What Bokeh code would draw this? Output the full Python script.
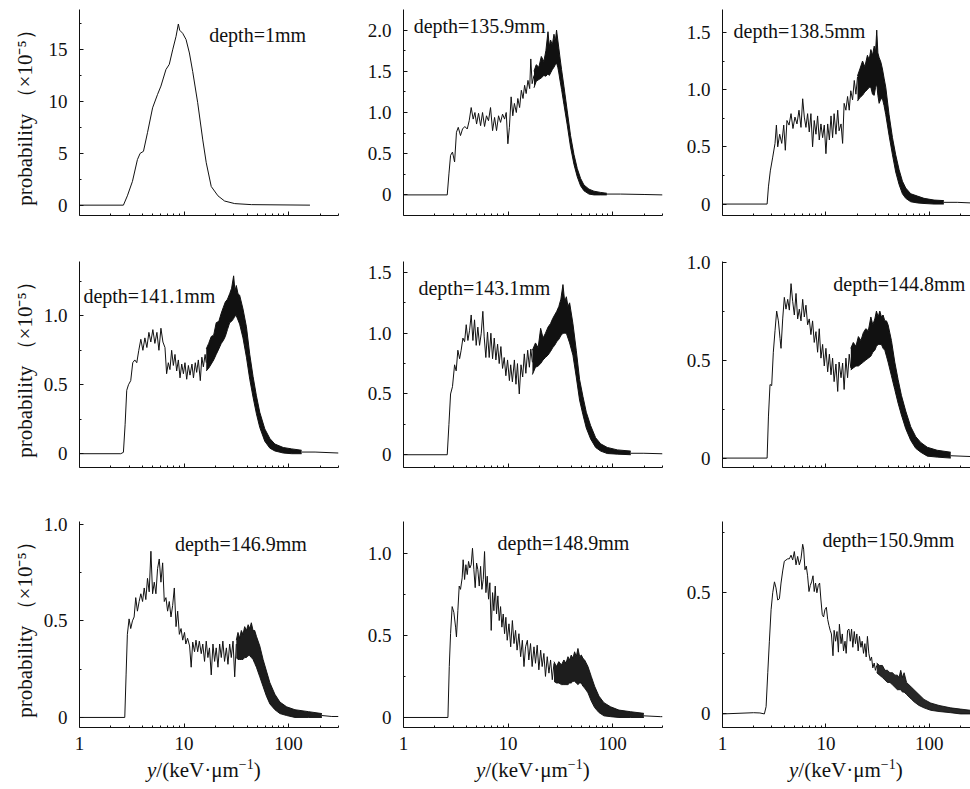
from bokeh.plotting import figure
from bokeh.models import Range1d, FixedTicker, CustomJSTickFormatter, Label, Div
from bokeh.layouts import column, row
from bokeh.embed import file_html
from bokeh.resources import INLINE

FONT = "Liberation Serif"
INK = "#111111"

# ---------------- data ----------------
DEPTHS = ["depth=1mm", "depth=135.9mm", "depth=138.5mm",
          "depth=141.1mm", "depth=143.1mm", "depth=144.8mm",
          "depth=146.9mm", "depth=148.9mm", "depth=150.9mm"]

X_TICKS = [1, 10, 100]
X_MINOR = [2, 3, 4, 5, 6, 7, 8, 9, 20, 30, 40, 50, 60, 70, 80, 90, 200, 300]
X_TITLE = "<i>y</i>/(keV·μm<sup style='font-size:14px;line-height:0'>−1</sup>)"
Y_TITLE = "probability （×10⁻⁵）"

Y_TICKS = [[0, 5, 10, 15], [0, 0.5, 1.0, 1.5, 2.0], [0, 0.5, 1.0, 1.5],
           [0, 0.5, 1.0], [0, 0.5, 1.0, 1.5], [0, 0.5, 1.0],
           [0, 0.5, 1.0], [0, 0.5, 1.0], [0, 0.5]]
Y_MINOR = [[2.5, 7.5, 12.5, 17.5], [0.25, 0.75, 1.25, 1.75], [0.25, 0.75, 1.25],
           [0.25, 0.75, 1.25], [0.25, 0.75, 1.25], [0.25, 0.75],
           [0.25, 0.75], [0.25, 0.75, 1.25], [0.25, 0.75]]
Y_DECIMALS = [0, 1, 1, 1, 1, 1, 1, 1, 1]

# panel 1 (depth = 1 mm)
LX1 = [1, 2.63, 2.87, 3.21, 3.58, 3.80, 4.09, 4.47, 5.00, 5.58, 6.01, 6.71, 7.22, 7.78, 8.38,
       8.82, 9.08, 9.70, 10.45, 11.25, 12.1, 13.5, 15.1, 16.3, 18.2, 21.1, 24.4, 30.5, 44, 160]
LY1 = [0, 0, 0.9, 2.3, 4.4, 5.0, 5.2, 7.0, 9.4, 10.7, 11.5, 13.1, 13.6, 15.0, 16.3,
       17.5, 16.9, 16.6, 16.0, 14.7, 12.9, 9.9, 6.3, 4.1, 1.8, 0.9, 0.4, 0.15, 0.05, 0.0]

# panel 2 (135.9 mm)
LX2 = [1, 2.62, 2.72, 2.82, 2.94, 3.08, 3.21, 3.34, 3.51, 3.67, 3.86, 4.07, 4.25, 4.44, 4.64,
       4.82, 5.00, 5.22, 5.46, 5.70, 5.96, 6.22, 6.50, 6.80, 7.11, 7.43, 7.76, 8.11, 8.48, 8.86,
       9.26, 9.60, 9.96, 10.3, 10.7, 11.1, 11.5, 12.0, 12.4, 12.9, 13.4, 13.9, 14.4, 14.9, 15.5,
       16.1, 16.5, 17.0, 17.7]
LY2 = [0, 0, 0.255, 0.48, 0.52, 0.40, 0.76, 0.82, 0.72, 0.80, 0.83, 0.80, 0.90, 1.06, 0.92,
       1.00, 0.86, 0.99, 0.84, 1.00, 0.83, 0.96, 0.90, 1.06, 0.78, 0.94, 0.78, 0.96, 0.88, 0.98,
       0.92, 1.00, 0.62, 0.82, 1.19, 0.96, 1.11, 1.00, 1.17, 1.06, 1.27, 1.17, 1.33, 1.23, 1.39,
       1.29, 1.65, 1.35, 1.45]
BX2 = [17.7, 18.6, 19.7, 20.8, 22.0, 23.0, 24.1, 24.8, 25.5, 26.5, 27.5, 28.3, 29.1, 29.9,
       30.6, 31.5, 32.5, 34.2, 36.8, 39.6, 42.7, 45.9, 49.4, 53.2, 59.4, 66.3, 76.8, 88]
BLO2 = [1.30, 1.38, 1.40, 1.42, 1.45, 1.44, 1.47, 1.45, 1.48, 1.52, 1.55, 1.58, 1.60, 1.55,
        1.48, 1.38, 1.28, 1.10, 0.85, 0.58, 0.37, 0.22, 0.11, 0.05, 0.01, 0.0, 0.0, 0.0]
BHI2 = [1.50, 1.58, 1.55, 1.68, 1.62, 1.75, 1.98, 1.80, 1.88, 1.82, 1.95, 1.86, 2.00, 1.88,
        1.78, 1.65, 1.52, 1.32, 1.02, 0.72, 0.49, 0.32, 0.20, 0.12, 0.07, 0.045, 0.03, 0.02]
TX2 = [88, 119, 200, 300]
TY2 = [0.01, 0.01, 0.005, 0.0]

# panel 3 (138.5 mm)
LX3 = [1, 2.70, 2.78, 2.90, 3.06, 3.22, 3.32, 3.42, 3.57, 3.74, 3.91, 4.05, 4.20, 4.40, 4.60,
       4.80, 5.02, 5.25, 5.49, 5.74, 5.96, 6.18, 6.41, 6.65, 6.90, 7.16, 7.43, 7.71, 8.01, 8.31,
       8.62, 8.95, 9.29, 9.64, 10.0, 10.4, 10.8, 11.2, 11.6, 12.0, 12.5, 13.0, 13.4, 14.0, 14.5,
       15.0, 15.6, 16.2, 16.8, 17.4, 18.1, 18.8, 19.5, 20.2]
LY3 = [0, 0, 0.15, 0.29, 0.41, 0.53, 0.69, 0.50, 0.61, 0.53, 0.69, 0.47, 0.73, 0.69, 0.79,
       0.66, 0.76, 0.70, 0.82, 0.67, 0.92, 0.76, 0.67, 0.79, 0.63, 0.79, 0.50, 0.73, 0.61, 0.77,
       0.56, 0.70, 0.58, 0.69, 0.44, 0.70, 0.56, 0.77, 0.58, 0.79, 0.61, 0.82, 0.64, 0.70, 0.53,
       0.88, 0.82, 0.94, 0.82, 0.99, 0.91, 1.08, 0.96, 1.11]
BX3 = [20.2, 21.3, 22.6, 23.8, 25.2, 26.2, 27.2, 28.2, 29.3, 30.2, 31.0, 31.8, 32.7, 34.0,
       35.2, 36.5, 37.9, 40.8, 44.0, 47.3, 51.0, 54.9, 59.1, 66.1, 76.6, 88.8, 111, 138]
BLO3 = [0.90, 0.93, 0.95, 0.98, 1.00, 1.02, 1.02, 0.96, 0.95, 1.02, 1.05, 0.95, 0.88, 0.92,
        0.92, 0.86, 0.78, 0.60, 0.43, 0.28, 0.17, 0.09, 0.05, 0.02, 0.01, 0.005, 0.0, 0.0]
BHI3 = [1.12, 1.18, 1.25, 1.20, 1.30, 1.26, 1.35, 1.30, 1.38, 1.33, 1.52, 1.32, 1.28, 1.24,
        1.18, 1.10, 1.02, 0.78, 0.58, 0.43, 0.30, 0.20, 0.14, 0.09, 0.07, 0.05, 0.035, 0.03]
TX3 = [138, 186, 250]
TY3 = [0.015, 0.015, 0.01]

# panel 4 (141.1 mm)
LX4 = [1, 2.48, 2.63, 2.73, 2.83, 2.94, 3.09, 3.23, 3.38, 3.53, 3.69, 3.86, 4.04, 4.22, 4.41,
       4.61, 4.81, 5.03, 5.26, 5.50, 5.75, 6.01, 6.28, 6.57, 6.81, 7.07, 7.33, 7.61, 7.90, 8.19,
       8.50, 8.82, 9.15, 9.50, 9.86, 10.2, 10.6, 11.0, 11.4, 11.9, 12.3, 12.8, 13.2, 13.7, 14.3,
       14.8, 15.3, 15.9, 16.3]
LY4 = [0, 0, 0.01, 0.21, 0.46, 0.50, 0.53, 0.66, 0.68, 0.66, 0.75, 0.83, 0.75, 0.84, 0.77,
       0.88, 0.81, 0.90, 0.80, 0.88, 0.75, 0.91, 0.81, 0.77, 0.58, 0.66, 0.61, 0.75, 0.64, 0.72,
       0.60, 0.68, 0.55, 0.65, 0.58, 0.66, 0.54, 0.64, 0.57, 0.65, 0.55, 0.66, 0.59, 0.68, 0.53,
       0.70, 0.63, 0.72, 0.66]
BX4 = [16.3, 17.2, 18.2, 19.2, 20.3, 21.5, 22.7, 23.7, 24.8, 26.0, 27.3, 28.5, 29.8, 30.7,
       31.6, 32.8, 34.0, 36.6, 39.5, 42.5, 45.7, 49.2, 53.0, 59.2, 66.2, 73.9, 88.9, 107, 133]
BLO4 = [0.60, 0.62, 0.65, 0.68, 0.72, 0.76, 0.80, 0.82, 0.85, 0.90, 0.95, 0.96, 0.98, 1.00,
        1.00, 0.97, 0.94, 0.84, 0.70, 0.54, 0.41, 0.29, 0.19, 0.09, 0.04, 0.02, 0.005, 0.0, 0.0]
BHI4 = [0.76, 0.80, 0.85, 0.86, 0.95, 0.96, 1.02, 1.06, 1.10, 1.12, 1.16, 1.20, 1.29, 1.18,
        1.22, 1.16, 1.15, 1.05, 0.92, 0.72, 0.56, 0.42, 0.30, 0.18, 0.11, 0.07, 0.045, 0.035,
        0.025]
TX4 = [133, 179, 300]
TY4 = [0.012, 0.012, 0.005]

# panel 5 (143.1 mm)
LX5 = [1, 2.62, 2.72, 2.82, 2.94, 3.08, 3.19, 3.31, 3.44, 3.56, 3.70, 3.84, 3.98, 4.13, 4.28,
       4.44, 4.61, 4.78, 4.96, 5.14, 5.34, 5.54, 5.74, 5.91, 6.13, 6.36, 6.60, 6.85, 7.11, 7.38,
       7.65, 7.94, 8.23, 8.54, 8.86, 9.19, 9.53, 9.89, 10.3, 10.6, 11.0, 11.5, 11.9, 12.3, 12.8,
       13.3, 13.8, 14.3, 14.8, 15.4, 16.0, 16.5, 17.1]
LY5 = [0, 0, 0.25, 0.50, 0.56, 0.74, 0.69, 0.86, 0.79, 0.86, 0.96, 0.93, 1.07, 0.94, 1.02,
       1.15, 0.94, 1.11, 0.90, 1.05, 0.90, 1.00, 1.18, 0.97, 0.80, 1.01, 0.80, 1.00, 0.79, 0.96,
       0.78, 0.91, 0.75, 0.89, 0.71, 0.80, 0.65, 0.78, 0.61, 0.74, 0.60, 0.78, 0.58, 0.75, 0.50,
       0.74, 0.64, 0.83, 0.67, 0.86, 0.72, 0.87, 0.76]
BX5 = [17.1, 18.3, 19.4, 20.5, 21.6, 22.8, 24.1, 25.5, 26.7, 27.9, 29.2, 30.6, 32.0, 33.5,
       34.8, 36.1, 37.4, 38.8, 41.7, 44.9, 48.3, 52.0, 56.0, 61.6, 68.8, 76.8, 88.9, 111, 149]
BLO5 = [0.66, 0.72, 0.73, 0.75, 0.78, 0.80, 0.82, 0.85, 0.88, 0.90, 0.93, 0.95, 0.98, 1.00,
        1.00, 1.00, 0.96, 0.92, 0.82, 0.64, 0.45, 0.33, 0.22, 0.13, 0.06, 0.03, 0.01, 0.005,
        0.0]
BHI5 = [0.86, 0.92, 0.88, 1.04, 0.96, 1.00, 1.05, 1.08, 1.12, 1.15, 1.18, 1.22, 1.28, 1.40,
        1.26, 1.30, 1.22, 1.25, 1.08, 0.86, 0.62, 0.48, 0.35, 0.24, 0.14, 0.09, 0.06, 0.04,
        0.03]
TX5 = [149, 199, 300]
TY5 = [0.012, 0.012, 0.008]

# panel 6 (144.8 mm)
LX6 = [1, 2.70, 2.78, 2.88, 2.99, 3.10, 3.22, 3.34, 3.47, 3.60, 3.68, 3.82, 3.96, 4.11, 4.27,
       4.43, 4.60, 4.77, 4.95, 5.14, 5.33, 5.53, 5.74, 5.96, 6.18, 6.41, 6.65, 6.90, 7.16, 7.43,
       7.71, 8.01, 8.31, 8.62, 8.95, 9.29, 9.64, 10.0, 10.4, 10.8, 11.2, 11.6, 12.0, 12.5, 13.0,
       13.4, 14.0, 14.5, 15.0, 15.6, 16.2, 16.8, 17.4]
LY6 = [0, 0, 0.21, 0.375, 0.37, 0.54, 0.65, 0.75, 0.70, 0.61, 0.56, 0.71, 0.82, 0.76, 0.81,
       0.755, 0.89, 0.80, 0.73, 0.84, 0.71, 0.76, 0.70, 0.81, 0.72, 0.78, 0.68, 0.71, 0.63, 0.70,
       0.59, 0.645, 0.54, 0.66, 0.51, 0.58, 0.47, 0.56, 0.44, 0.53, 0.425, 0.51, 0.39, 0.48, 0.34,
       0.49, 0.41, 0.485, 0.35, 0.51, 0.41, 0.53, 0.46]
BX6 = [17.4, 18.4, 19.5, 20.6, 21.8, 23.0, 24.3, 25.7, 27.2, 28.4, 29.7, 30.8, 32.0, 33.2,
       34.4, 35.7, 37.1, 38.5, 39.9, 43.0, 46.3, 49.9, 53.7, 59.1, 66.1, 73.8, 82.5, 95.7, 119,
       161]
BLO6 = [0.45, 0.46, 0.47, 0.47, 0.48, 0.49, 0.50, 0.51, 0.52, 0.54, 0.55, 0.57, 0.58, 0.58,
        0.58, 0.56, 0.55, 0.52, 0.49, 0.42, 0.35, 0.28, 0.22, 0.15, 0.09, 0.05, 0.03, 0.01,
        0.005, 0.0]
BHI6 = [0.56, 0.59, 0.57, 0.62, 0.60, 0.64, 0.66, 0.65, 0.72, 0.68, 0.71, 0.75, 0.72, 0.75,
        0.72, 0.73, 0.70, 0.70, 0.68, 0.60, 0.49, 0.40, 0.32, 0.24, 0.16, 0.11, 0.08, 0.055,
        0.04, 0.03]
TX6 = [161, 250]
TY6 = [0.012, 0.008]

# panel 7 (146.9 mm)
LX7 = [1, 2.71, 2.79, 2.87, 2.98, 3.09, 3.21, 3.33, 3.45, 3.58, 3.72, 3.86, 4.01, 4.16, 4.31,
       4.47, 4.64, 4.82, 5.00, 5.19, 5.38, 5.58, 5.79, 6.01, 6.24, 6.47, 6.71, 6.96, 7.22, 7.50,
       7.78, 8.07, 8.38, 8.69, 9.02, 9.36, 9.71, 10.1, 10.4, 10.8, 11.3, 11.7, 12.1, 12.6, 13.0,
       13.5, 14.0, 14.6, 15.1, 15.7, 16.3, 16.9, 17.5, 18.2, 18.9, 19.6, 20.3, 21.1, 21.9, 22.7,
       23.5, 24.4, 25.4, 26.3, 27.3, 28.3, 29.4, 30.5, 31.6]
LY7 = [0, 0, 0.22, 0.43, 0.51, 0.46, 0.50, 0.52, 0.62, 0.55, 0.60, 0.64, 0.60, 0.67, 0.61,
       0.72, 0.65, 0.86, 0.64, 0.70, 0.64, 0.77, 0.82, 0.70, 0.80, 0.60, 0.62, 0.55, 0.60, 0.52,
       0.58, 0.67, 0.47, 0.55, 0.43, 0.46, 0.40, 0.44, 0.38, 0.41, 0.37, 0.26, 0.39, 0.34, 0.40,
       0.34, 0.395, 0.33, 0.38, 0.29, 0.395, 0.31, 0.36, 0.22, 0.38, 0.29, 0.36, 0.26, 0.38, 0.31,
       0.395, 0.29, 0.36, 0.275, 0.38, 0.31, 0.395, 0.21, 0.38]
BX7 = [31.6, 32.8, 34.0, 35.3, 36.6, 38.0, 39.5, 41.0, 42.5, 44.0, 45.7, 47.4, 49.2, 53.0,
       57.0, 61.4, 66.2, 73.9, 82.5, 95.7, 115, 155, 208]
BLO7 = [0.31, 0.30, 0.30, 0.30, 0.30, 0.31, 0.31, 0.32, 0.32, 0.31, 0.30, 0.28, 0.26, 0.21,
        0.16, 0.11, 0.07, 0.04, 0.02, 0.01, 0.0, 0.0, 0.0]
BHI7 = [0.40, 0.44, 0.41, 0.45, 0.43, 0.47, 0.45, 0.48, 0.46, 0.49, 0.45, 0.45, 0.42, 0.37,
        0.30, 0.24, 0.18, 0.12, 0.08, 0.055, 0.04, 0.03, 0.02]
TX7 = [208, 259, 300]
TY7 = [0.01, 0.005, 0.005]

# panel 8 (148.9 mm)
LX8 = [1, 2.66, 2.74, 2.82, 2.92, 3.03, 3.15, 3.21, 3.31, 3.41, 3.51, 3.64, 3.72, 3.84, 3.95,
       4.07, 4.19, 4.31, 4.44, 4.57, 4.71, 4.85, 5.00, 5.14, 5.30, 5.46, 5.62, 5.79, 5.96, 6.14,
       6.32, 6.51, 6.70, 6.90, 7.11, 7.32, 7.54, 7.76, 7.99, 8.23, 8.48, 8.73, 8.99, 9.26, 9.53,
       9.82, 10.2, 10.6, 11.0, 11.4, 11.8, 12.2, 12.7, 13.2, 13.7, 14.2, 14.7, 15.3, 15.8, 16.4,
       17.0, 17.7, 18.3, 19.0, 19.7, 20.5, 21.2, 22.0, 22.8, 23.7, 24.6, 25.5, 26.5, 27.5]
LY8 = [0, 0, 0.31, 0.51, 0.675, 0.64, 0.55, 0.49, 0.65, 0.80, 0.78, 0.85, 0.96, 0.84, 0.93,
       0.87, 0.95, 0.91, 0.93, 1.03, 0.90, 0.79, 0.94, 0.90, 0.80, 0.92, 0.78, 0.84, 1.01, 0.76,
       0.86, 0.72, 0.82, 0.53, 0.76, 0.65, 0.80, 0.63, 0.74, 0.59, 0.675, 0.55, 0.63, 0.51, 0.61,
       0.47, 0.57, 0.43, 0.59, 0.45, 0.53, 0.41, 0.51, 0.37, 0.47, 0.31, 0.43, 0.47, 0.35, 0.45,
       0.31, 0.43, 0.33, 0.44, 0.29, 0.41, 0.31, 0.39, 0.25, 0.37, 0.27, 0.35, 0.23, 0.33]
BX8 = [27.5, 29.0, 30.6, 32.4, 34.2, 35.8, 37.4, 38.8, 40.2, 41.7, 43.3, 44.9, 46.6, 48.4,
       50.2, 52.0, 54.0, 58.1, 62.5, 67.3, 74.0, 82.6, 95.7, 115, 149, 199]
BLO8 = [0.22, 0.21, 0.21, 0.20, 0.20, 0.20, 0.20, 0.21, 0.21, 0.22, 0.22, 0.21, 0.20, 0.21,
        0.21, 0.19, 0.18, 0.15, 0.10, 0.06, 0.03, 0.01, 0.005, 0.0, 0.0, 0.0]
BHI8 = [0.34, 0.31, 0.34, 0.32, 0.35, 0.33, 0.37, 0.35, 0.38, 0.36, 0.40, 0.37, 0.42, 0.37,
        0.38, 0.36, 0.35, 0.31, 0.25, 0.19, 0.13, 0.09, 0.065, 0.045, 0.035, 0.025]
TX8 = [199, 288, 300]
TY8 = [0.01, 0.005, 0.005]

# panel 9 (150.9 mm)
LX9 = [1, 2.0, 2.3, 2.54, 2.64, 2.74, 2.84, 2.95, 3.06, 3.18, 3.29, 3.42, 3.55, 3.68, 3.82,
       3.96, 4.11, 4.27, 4.43, 4.60, 4.77, 4.95, 5.14, 5.33, 5.53, 5.74, 5.96, 6.09, 6.27, 6.46,
       6.65, 6.86, 7.06, 7.27, 7.50, 7.71, 7.94, 8.18, 8.43, 8.69, 8.95, 9.22, 9.49, 9.78, 10.1,
       10.4, 10.7, 11.0, 11.3, 11.7, 12.0, 12.4, 12.8, 13.2, 13.5, 14.0, 14.4, 14.8, 15.3, 15.7,
       16.2, 16.7, 17.2, 17.7, 18.2, 18.8, 19.3, 19.9, 20.5, 21.1, 21.8, 22.4, 23.1, 23.8, 24.5,
       25.2, 26.0, 26.8, 27.6, 28.4, 29.3, 30.1, 31.0]
LY9 = [0, 0.005, 0.004, 0, 0.03, 0.17, 0.30, 0.43, 0.50, 0.545, 0.52, 0.47, 0.475, 0.54, 0.59,
       0.63, 0.635, 0.64, 0.64, 0.655, 0.635, 0.67, 0.615, 0.65, 0.615, 0.64, 0.70, 0.68, 0.595,
       0.61, 0.57, 0.505, 0.53, 0.545, 0.57, 0.505, 0.54, 0.50, 0.53, 0.54, 0.47, 0.41, 0.40,
       0.43, 0.44, 0.39, 0.365, 0.345, 0.33, 0.24, 0.345, 0.30, 0.34, 0.255, 0.37, 0.29, 0.33,
       0.26, 0.30, 0.25, 0.345, 0.35, 0.30, 0.35, 0.275, 0.34, 0.29, 0.33, 0.26, 0.32, 0.275,
       0.30, 0.25, 0.29, 0.235, 0.32, 0.25, 0.22, 0.235, 0.19, 0.21, 0.18, 0.20]
BX9 = [31.0, 33.0, 35.2, 37.2, 39.3, 41.6, 44.0, 46.5, 49.1, 50.9, 52.9, 55.0, 57.0, 60.2,
       63.6, 67.3, 71.1, 79.4, 88.8, 103, 124, 161, 200, 250]
BLO9 = [0.17, 0.16, 0.15, 0.14, 0.13, 0.13, 0.12, 0.11, 0.10, 0.10, 0.10, 0.09, 0.09, 0.08,
        0.07, 0.06, 0.05, 0.035, 0.025, 0.015, 0.01, 0.005, 0.0, 0.0]
BHI9 = [0.21, 0.20, 0.20, 0.18, 0.18, 0.17, 0.17, 0.16, 0.16, 0.15, 0.18, 0.15, 0.17, 0.13,
        0.12, 0.11, 0.10, 0.08, 0.06, 0.045, 0.035, 0.025, 0.02, 0.015]

LINES = [(LX1, LY1), (LX2, LY2), (LX3, LY3), (LX4, LY4), (LX5, LY5),
         (LX6, LY6), (LX7, LY7), (LX8, LY8), (LX9, LY9)]
BANDS = [None, (BX2, BLO2, BHI2), (BX3, BLO3, BHI3), (BX4, BLO4, BHI4), (BX5, BLO5, BHI5),
         (BX6, BLO6, BHI6), (BX7, BLO7, BHI7), (BX8, BLO8, BHI8), (BX9, BLO9, BHI9)]
TAILS = [None, (TX2, TY2), (TX3, TY3), (TX4, TY4), (TX5, TY5),
         (TX6, TY6), (TX7, TY7), (TX8, TY8), None]

# ---------------- layout / styling ----------------
BAND_ALPHA = [1, 1, 1, 1, 1, 1, 0.95, 0.95, 0.9]
Y_RANGES = [(-1.0, 18.9), (-0.25, 2.25), (-0.10, 1.70),
            (-0.10, 1.394), (-0.105, 1.59), (-0.048, 1.003),
            (-0.052, 1.014), (-0.061, 1.193), (-0.056, 0.794)]
X_RANGES = [(1, 300), (1, 300), (1, 250)]
COL_W = [348, 324, 298]
COL_BL = [79, 55, 50]
COL_BR = [10, 10, 0]
ROW_H = [248, 252, 257]
ROW_BT = [9, 13, 21]
ROW_BB = [33, 33, 30]
TITLE_H = 29
TITLE_PAD = [147, 128, 117]
LABEL_POS = [(17.4, 16.4), (1.25, 2.045), (1.28, 1.51),
             (1.09, 1.143), (1.39, 1.372), (11.8, 0.888),
             (8.19, 0.895), (7.94, 1.063), (9.25, 0.718)]
YTITLE_STANDOFF = [9, 4, 4]

rows = []
for r in range(3):
    figs = []
    for c in range(3):
        k = 3 * r + c
        y0, y1 = Y_RANGES[k]
        p = figure(width=COL_W[c], height=ROW_H[r], x_axis_type="log",
                   x_range=Range1d(*X_RANGES[c]), y_range=Range1d(y0, y1),
                   output_backend="svg", toolbar_location=None,
                   min_border_left=COL_BL[c], min_border_right=COL_BR[c],
                   min_border_top=ROW_BT[r], min_border_bottom=ROW_BB[r])
        p.outline_line_color = None
        p.xgrid.visible = False
        p.ygrid.visible = False
        p.background_fill_color = "white"
        p.border_fill_color = "white"

        p.xaxis.ticker = FixedTicker(ticks=X_TICKS, minor_ticks=X_MINOR)
        p.yaxis.ticker = FixedTicker(ticks=Y_TICKS[k], minor_ticks=Y_MINOR[k])
        if r == 2:
            p.xaxis.formatter = CustomJSTickFormatter(code="return tick.toFixed(0);")
        else:
            p.xaxis.formatter = CustomJSTickFormatter(code="return '';")
        p.yaxis.formatter = CustomJSTickFormatter(
            code="return tick == 0 ? '0' : tick.toFixed(%d);" % Y_DECIMALS[k])

        for ax in (p.xaxis[0], p.yaxis[0]):
            ax.axis_line_color = INK
            ax.axis_line_width = 1
            ax.major_tick_in = 4
            ax.major_tick_out = 0
            ax.minor_tick_in = 2
            ax.minor_tick_out = 0
            ax.major_tick_line_color = INK
            ax.minor_tick_line_color = INK
            ax.major_label_text_font = FONT
            ax.major_label_text_font_size = "19px"
            ax.major_label_text_color = INK
        p.yaxis.major_label_standoff = 12
        p.xaxis.major_label_standoff = 9

        if c == 0:
            p.yaxis.axis_label = Y_TITLE
            p.yaxis.axis_label_text_font = FONT
            p.yaxis.axis_label_text_font_size = "21px"
            p.yaxis.axis_label_text_font_style = "normal"
            p.yaxis.axis_label_text_color = INK
            p.yaxis.axis_label_standoff = YTITLE_STANDOFF[r]

        lx, ly = LINES[k]
        p.line(lx, ly, line_color=INK, line_width=1)
        if BANDS[k] is not None:
            bx, blo, bhi = BANDS[k]
            a = BAND_ALPHA[k]
            p.varea(x=bx, y1=blo, y2=bhi, fill_color=INK, fill_alpha=a)
            p.line(bx, blo, line_color=INK, line_width=1, line_alpha=a)
            p.line(bx, bhi, line_color=INK, line_width=1, line_alpha=a)
        if TAILS[k] is not None:
            tx, ty = TAILS[k]
            p.line(tx, ty, line_color=INK, line_width=1)

        lxp, lyp = LABEL_POS[k]
        p.add_layout(Label(x=lxp, y=lyp, text=DEPTHS[k], text_font=FONT,
                           text_font_size="20px", text_color=INK,
                           text_align="left", text_baseline="alphabetic"))
        figs.append(p)
    rows.append(row(*figs))

titles = []
for c in range(3):
    html = ("<div style=\"padding-left:%dpx;padding-top:1px;font-family:'Liberation Serif';"
            "font-size:21px;line-height:24px;color:%s;white-space:nowrap\">%s</div>"
            % (TITLE_PAD[c], INK, X_TITLE))
    titles.append(Div(text=html, width=COL_W[c], height=TITLE_H, margin=(0, 0, 0, 0)))
rows.append(row(*titles))

layout = column(*rows)
open("out.html", "w").write(file_html(layout, INLINE))
